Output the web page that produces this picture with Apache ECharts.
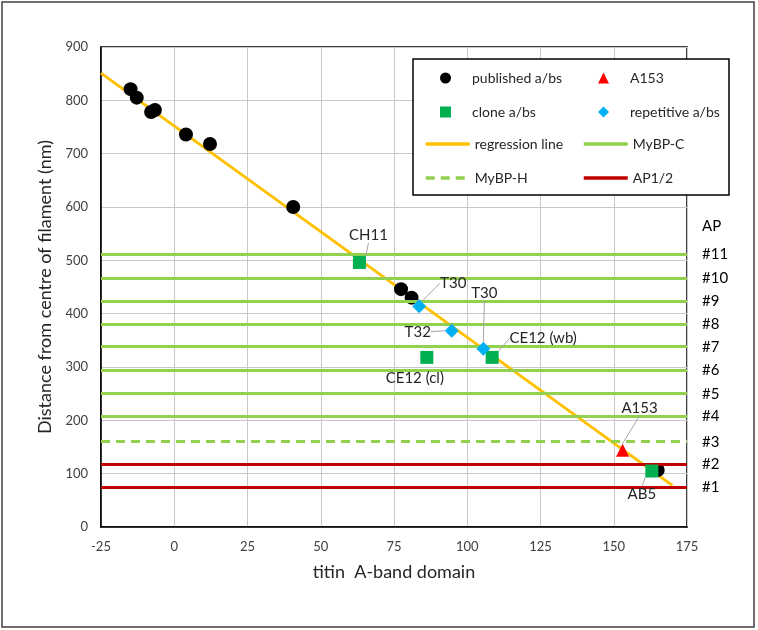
<!DOCTYPE html>
<html>
<head>
<meta charset="utf-8">
<script src="https://cdn.jsdelivr.net/npm/echarts@6/dist/echarts.min.js"></script>
<style>
  html, body { margin: 0; padding: 0; background: #fff; }
  #chart { width: 758px; height: 630px; }
</style>
</head>
<body>
<div id="chart"></div>
<script>
// data
const publishedPts = [
  [-14.9, 821], [-12.8, 805], [-7.9, 778], [-6.6, 782], [4.0, 736],
  [12.2, 718], [40.6, 600], [77.4, 446], [81.0, 430], [165, 107]
]
const clonePts = [[63.2, 496], [86.2, 318], [108.5, 318], [163, 105]]
const cloneNames = ['CH11', 'CE12 (cl)', 'CE12 (wb)', 'AB5']
const repetitivePts = [[83.6, 414], [94.7, 368], [105.5, 334]]
const repetitiveNames = ['T30', 'T32', 'T30']
const a153Pts = [[153, 144]]
const regressionPts = [[-25, 851], [170, 78]]

// horizontal stripes (nm) and their AP numbers
const mybpC = [511, 467, 424, 381, 338, 294, 250, 207]
const mybpCLabels = ['#11', '#10', '#9', '#8', '#7', '#6', '#5', '#4']
const mybpH = [160]
const mybpHLabels = ['#3']
const ap12 = [118, 74]
const ap12Labels = ['#2', '#1']

// label offsets (px) for the annotated points
const cloneLabelOffsets = [[9, -27], [-12, 21], [51, -19], [-10, 23]]
const repetitiveLabelOffsets = [[34, -23], [-34, 1], [1, -56]]
const a153LabelOffsets = [[17, -42]]

const FONT = 'Lato, "Open Sans", sans-serif'
const TXT = '#262626'

const chart = echarts.init(document.getElementById('chart'))

function stripeLine(values, labels, color, type) {
  return {
    silent: true,
    symbol: 'none',
    lineStyle: { color: color, width: 3, type: type },
    label: {
      show: true,
      position: 'end',
      distance: 15,
      color: '#000',
      fontSize: 15,
      fontFamily: FONT
    },
    data: values.map((v, i) => ({ yAxis: v, label: { formatter: labels[i] } }))
  }
}

const pointLabel = {
  show: true,
  position: 'inside',
  color: TXT,
  fontSize: 15,
  fontFamily: FONT
}
const leader = { show: true, lineStyle: { color: '#a6a6a6', width: 1 } }

// legend: markers and lines are split so the marker icons keep their shape
function markerLegend(names, left) {
  return {
    data: names, orient: 'vertical', left: left, top: 71, padding: 0,
    itemWidth: 11, itemHeight: 11, itemGap: 20, z: 11,
    textStyle: { fontSize: 14, color: TXT, fontFamily: FONT, padding: [0, 0, 0, 16] }
  }
}
function lineLegend(names, left) {
  return {
    data: names, orient: 'vertical', left: left, top: 137, padding: 0,
    itemWidth: 44, itemHeight: 14, itemGap: 20, z: 11,
    itemStyle: { opacity: 0 },
    lineStyle: { width: 3.5 },
    textStyle: { fontSize: 14, color: TXT, fontFamily: FONT }
  }
}

const option = {
  animation: false,
  backgroundColor: '#fff',
  grid: {
    left: 101, right: 71, top: 47, bottom: 103,
    show: true, borderColor: '#000', borderWidth: 1.5
  },
  xAxis: {
    type: 'value',
    min: -25, max: 175, interval: 25,
    name: 'titin  A-band domain',
    nameLocation: 'middle',
    nameGap: 36,
    nameTextStyle: { fontSize: 18, color: TXT, fontFamily: FONT },
    axisLine: { lineStyle: { color: '#000', width: 1.5 } },
    axisTick: { show: false },
    axisLabel: { color: '#404040', fontSize: 13, margin: 13, fontFamily: FONT },
    splitLine: { lineStyle: { color: '#c8c8c8', width: 1 } }
  },
  yAxis: {
    type: 'value',
    min: 0, max: 900, interval: 100,
    name: 'Distance from centre of filament (nm)',
    nameLocation: 'middle',
    nameGap: 43,
    nameTextStyle: { fontSize: 18, color: TXT, fontFamily: FONT },
    axisLine: { show: true, onZero: false, lineStyle: { color: '#000', width: 1.5 } },
    axisTick: { show: false },
    axisLabel: { color: '#404040', fontSize: 13, margin: 13, fontFamily: FONT },
    splitLine: { lineStyle: { color: '#c8c8c8', width: 1 } }
  },
  legend: [
    markerLegend(['published a/bs', 'clone a/bs'], 440),
    markerLegend(['A153', 'repetitive a/bs'], 598),
    lineLegend(['regression line', 'MyBP-H'], 424),
    lineLegend(['MyBP-C', 'AP1/2'], 582)
  ],
  graphic: [
    {
      type: 'rect', z: 0, silent: true,
      shape: { x: 2, y: 2, width: 752, height: 625 },
      style: { fill: null, stroke: '#404040', lineWidth: 1.5 }
    },
    {
      type: 'rect', z: 10, silent: true,
      shape: { x: 413, y: 59, width: 316, height: 136 },
      style: { fill: '#fff', stroke: '#000', lineWidth: 1.5 }
    },
    {
      type: 'text', left: 702, top: 219, silent: true,
      style: { text: 'AP', fill: '#000', font: '15px ' + FONT }
    }
  ],
  series: [
    {
      name: 'MyBP-C', type: 'line', data: [], symbol: 'none', z: 2,
      lineStyle: { color: '#92D050', width: 3 },
      itemStyle: { color: '#92D050' },
      markLine: stripeLine(mybpC, mybpCLabels, '#92D050', 'solid')
    },
    {
      name: 'MyBP-H', type: 'line', data: [], symbol: 'none', z: 2,
      lineStyle: { color: '#92D050', width: 3, type: [9, 6] },
      itemStyle: { color: '#92D050' },
      markLine: stripeLine(mybpH, mybpHLabels, '#92D050', [9, 6])
    },
    {
      name: 'AP1/2', type: 'line', data: [], symbol: 'none', z: 2,
      lineStyle: { color: '#C00000', width: 3 },
      itemStyle: { color: '#C00000' },
      markLine: stripeLine(ap12, ap12Labels, '#C00000', 'solid')
    },
    {
      name: 'regression line', type: 'line', data: regressionPts,
      symbol: 'none', z: 3,
      lineStyle: { color: '#FFC000', width: 3 },
      itemStyle: { color: '#FFC000' }
    },
    {
      name: 'published a/bs', type: 'scatter', data: publishedPts, z: 4,
      symbol: 'circle', symbolSize: 14,
      itemStyle: { color: '#000', opacity: 1 }
    },
    {
      name: 'clone a/bs', type: 'scatter', z: 5,
      symbol: 'rect', symbolSize: 13,
      itemStyle: { color: '#00B050', opacity: 1 },
      data: clonePts.map((p, i) => ({
        value: p, name: cloneNames[i],
        labelLine: cloneNames[i] === 'CE12 (cl)' ? { show: false } : undefined
      })),
      label: Object.assign({}, pointLabel, { formatter: '{b}' }),
      labelLine: leader,
      labelLayout: (params) => {
        const o = cloneLabelOffsets[params.dataIndex]
        return { dx: o[0], dy: o[1] }
      }
    },
    {
      name: 'repetitive a/bs', type: 'scatter', z: 6,
      symbol: 'diamond', symbolSize: 14,
      itemStyle: { color: '#00B0F0', opacity: 1 },
      data: repetitivePts.map((p, i) => ({ value: p, name: repetitiveNames[i] })),
      label: Object.assign({}, pointLabel, { formatter: '{b}' }),
      labelLine: leader,
      labelLayout: (params) => {
        const o = repetitiveLabelOffsets[params.dataIndex]
        return { dx: o[0], dy: o[1] }
      }
    },
    {
      name: 'A153', type: 'scatter', z: 6,
      symbol: 'triangle', symbolSize: 13,
      itemStyle: { color: '#FF0000', opacity: 1 },
      data: a153Pts.map(p => ({ value: p, name: 'A153' })),
      label: Object.assign({}, pointLabel, { formatter: '{b}' }),
      labelLine: leader,
      labelLayout: (params) => {
        const o = a153LabelOffsets[params.dataIndex]
        return { dx: o[0], dy: o[1] }
      }
    }
  ]
}

chart.setOption(option)
</script>
</body>
</html>
